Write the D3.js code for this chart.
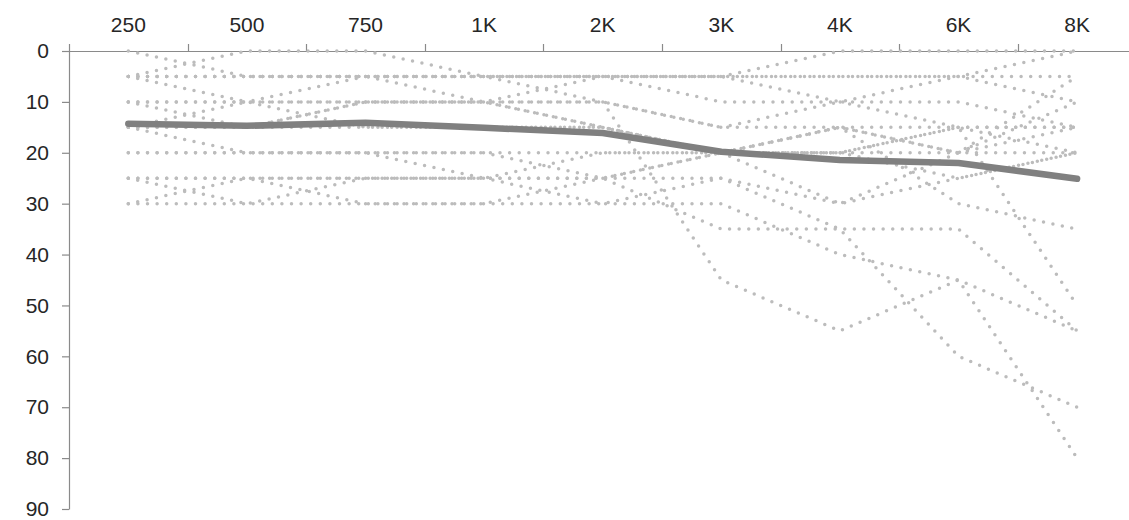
<!DOCTYPE html>
<html>
<head>
<meta charset="utf-8">
<script src="https://cdn.jsdelivr.net/npm/d3@7/dist/d3.min.js"></script>
<style>
  html, body { margin: 0; padding: 0; background: #ffffff; }
  svg { display: block; }
  .axis text { font-family: "Liberation Sans", Arial, sans-serif; font-size: 21px; fill: #262626; }
  .axis path, .axis line { stroke: #8a8a8a; stroke-width: 1.2; }
</style>
</head>
<body>
<svg id="chart" width="1129" height="520"></svg>
<script>
// Test frequencies (category axis along the top)
const frequencies = ["250", "500", "750", "1K", "2K", "3K", "4K", "6K", "8K"];
// Hearing level ticks, dB (axis runs downward)
const levelTicks = [0, 10, 20, 30, 40, 50, 60, 70, 80, 90];

// Group average threshold at each frequency
const groupMean = [14.3, 14.7, 14.1, 15.1, 16.1, 19.8, 21.4, 22.0, 25.1];

// Individual thresholds, one array per listener
const listener01 = [10, 10, 5, 5, 10, 45, 55, 45, 80];
const listener02 = [25, 25, 25, 25, 30, 30, 40, 45, 55];
const listener03 = [20, 20, 20, 25, 25, 35, 35, 35, 55];
const listener04 = [30, 30, 30, 30, 30, 25, 35, 60, 70];
const listener05 = [15, 15, 10, 10, 15, 20, 15, 30, 35];
const listener06 = [5, 5, 5, 10, 5, 10, 10, 15, 50];
const listener07 = [15, 20, 20, 20, 20, 20, 30, 25, 20];
const listener08 = [0, 5, 5, 5, 5, 5, 0, 0, 0];
const listener09 = [5, 0, 0, 5, 5, 5, 5, 5, 0];
const listener10 = [5, 5, 5, 5, 5, 5, 10, 5, 10];
const listener11 = [10, 10, 10, 10, 10, 15, 10, 10, 15];
const listener12 = [5, 10, 15, 15, 15, 20, 15, 20, 10];
const listener13 = [15, 10, 10, 10, 10, 15, 15, 15, 15];
const listener14 = [15, 15, 15, 15, 15, 20, 20, 15, 15];
const listener15 = [25, 30, 25, 25, 20, 20, 20, 15, 20];
const listener16 = [20, 20, 20, 20, 25, 20, 20, 20, 15];
const listener17 = [30, 25, 25, 25, 25, 25, 30, 20, 20];
const listener18 = [25, 25, 30, 30, 25, 20, 20, 25, 20];
const listener19 = [5, 5, 5, 5, 5, 5, 5, 5, 5];
const listener20 = [10, 15, 10, 10, 15, 20, 15, 20, 5];

const listeners = [
  listener01, listener02, listener03, listener04, listener05,
  listener06, listener07, listener08, listener09, listener10,
  listener11, listener12, listener13, listener14, listener15,
  listener16, listener17, listener18, listener19, listener20
];

const svg = d3.select("#chart");
const plotLeft = 69, plotTop = 51, plotBottom = 509;
const bandW = 118.6;

const x = d3.scaleBand()
  .domain(frequencies)
  .range([plotLeft, plotLeft + bandW * frequencies.length])
  .paddingInner(0).paddingOuter(0);

const y = d3.scaleLinear().domain([0, 90]).range([plotTop, plotBottom]);

const cx = f => x(f) + x.bandwidth() / 2;

// Left axis: hearing level
svg.append("g")
  .attr("class", "axis")
  .attr("transform", `translate(${plotLeft},0)`)
  .call(d3.axisLeft(y).tickValues(levelTicks).tickSize(7).tickPadding(13).tickSizeOuter(0));

// Top axis: frequency labels centred in each band, ticks on band edges
const xAxis = svg.append("g")
  .attr("class", "axis")
  .attr("transform", `translate(0,${plotTop})`)
  .call(d3.axisTop(x).tickSize(0).tickPadding(19).tickSizeOuter(0));
xAxis.select(".domain").attr("d", `M${plotLeft},0.5H1129`);

xAxis.selectAll(".band-tick")
  .data(frequencies)
  .enter().append("line")
  .attr("class", "band-tick")
  .attr("x1", d => Math.round(x(d)) + 0.5)
  .attr("x2", d => Math.round(x(d)) + 0.5)
  .attr("y1", -7)
  .attr("y2", 0.5);

const line = d3.line()
  .x((v, i) => cx(frequencies[i]))
  .y(v => y(v));

// Individual listeners as dotted light grey lines
svg.append("g")
  .selectAll("path")
  .data(listeners)
  .enter().append("path")
  .attr("d", d => line(d))
  .attr("fill", "none")
  .attr("stroke", "#bcbcbc")
  .attr("stroke-width", 3.5)
  .attr("stroke-linecap", "round")
  .attr("stroke-dasharray", "0 9.6");

// Group mean as a heavy dark grey line
svg.append("path")
  .attr("d", line(groupMean))
  .attr("fill", "none")
  .attr("stroke", "#808080")
  .attr("stroke-width", 6.5)
  .attr("stroke-linecap", "round")
  .attr("stroke-linejoin", "round");
</script>
</body>
</html>
